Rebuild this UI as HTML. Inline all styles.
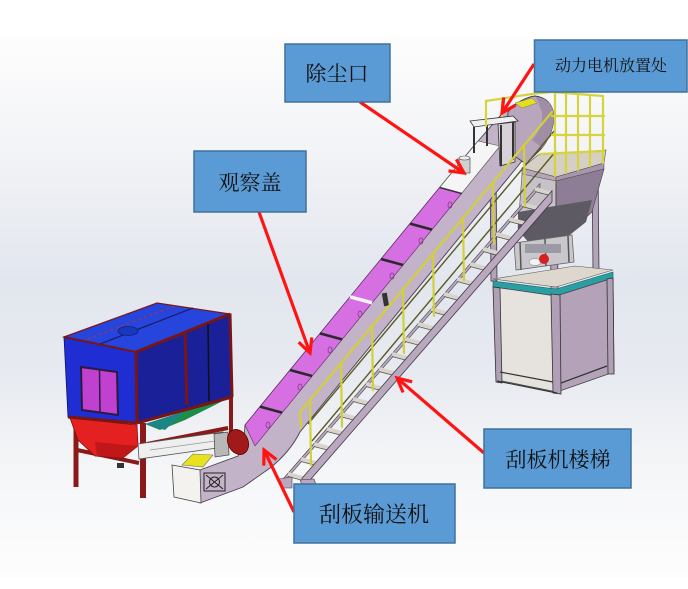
<!DOCTYPE html>
<html><head><meta charset="utf-8"><style>
html,body{margin:0;padding:0;background:#fff;}
svg{display:block;}
text{font-family:"Liberation Serif","Noto Serif CJK SC","Noto Sans CJK SC",serif;fill:#111;}
</style></head><body>
<svg width="688" height="589" viewBox="0 0 688 589" xmlns="http://www.w3.org/2000/svg">
<defs>
<linearGradient id="bg" x1="0" y1="0" x2="0" y2="1">
<stop offset="0" stop-color="#fdfdfd"/>
<stop offset="0.2" stop-color="#f3f4f7"/>
<stop offset="0.45" stop-color="#e2e6ee"/>
<stop offset="0.62" stop-color="#e7eaf0"/>
<stop offset="0.8" stop-color="#f5f6f8"/>
<stop offset="1" stop-color="#fdfdfd"/>
</linearGradient>
<marker id="ah" markerUnits="userSpaceOnUse" markerWidth="20" markerHeight="20" viewBox="0 0 20 20" refX="17" refY="10" orient="auto">
<path d="M3,3 L17,10 L3,17" fill="none" stroke="#ff1414" stroke-width="3.2"/>
</marker>
</defs>
<rect x="0" y="0" width="688" height="589" fill="#fff"/>
<rect x="0" y="37" width="688" height="541" fill="url(#bg)"/>

<!-- packaging station: upper posts -->
<g fill="#b4a4b9" stroke="#3e3844" stroke-width="0.8">
<polygon points="490,168 496,168 497,281 491,281"/>
<polygon points="550,176 557,176 558,291 551,291"/>
<polygon points="592,165 598,165 599,273 593,273"/>
</g>
<!-- platform floor -->
<polygon points="522,168 538,155 606,150 604,163 556,177" fill="#d5cfc6" stroke="#555" stroke-width="0.6"/>
<polygon points="522,168 556,177 556,183 522,174" fill="#b6a5bb" stroke="#444" stroke-width="0.5"/>
<polygon points="556,177 604,163 604,169 556,183" fill="#a896ad" stroke="#444" stroke-width="0.5"/>
<!-- hopper -->
<polygon points="522,174 556,181 556,238 530,243 518,228" fill="#c6c2c8" stroke="#555" stroke-width="0.6"/>
<polygon points="556,181 604,169 592,212 566,236 556,238" fill="#8e7e95" stroke="#444" stroke-width="0.6"/>
<polygon points="518,212 592,200 586,222 566,238 530,244 518,230" fill="#5e5a63"/>
<line x1="556" y1="183" x2="556" y2="206" stroke="#444" stroke-width="0.8"/>
<!-- feeder -->
<polygon points="514,243 572,235 574,262 516,270" fill="#c9c7cc" stroke="#666" stroke-width="0.8"/>
<g stroke="#555" stroke-width="1.5"><line x1="520" y1="242" x2="521" y2="270"/><line x1="545" y1="239" x2="546" y2="266"/><line x1="568" y1="236" x2="569" y2="262"/></g>
<rect x="525" y="244" width="36" height="9" fill="#9c9aa4"/>
<ellipse cx="535" cy="262" rx="6" ry="3.5" fill="#f2f2f2" stroke="#777" stroke-width="0.5"/>
<ellipse cx="544" cy="259" rx="5" ry="5" fill="#d42020"/>
<!-- base -->
<polygon points="493,279 575,266 613,270 556,287" fill="#ddd7cd" stroke="#555" stroke-width="0.6"/>
<polygon points="493,281 556,289 613,272 613,278 556,296 493,287" fill="#2a9fa3" stroke="#1b5d60" stroke-width="0.6"/>
<polygon points="494,287 556,296 557,392 497,380" fill="#e6e3de" stroke="#444" stroke-width="0.8"/>
<polygon points="556,296 613,278 614,372 557,392" fill="#b3a2b8" stroke="#444" stroke-width="0.8"/>
<g fill="#b0a0b5" stroke="#333" stroke-width="0.8">
<polygon points="493,287 500,288 502,383 496,382"/>
<polygon points="551,294 560,295 561,394 553,393"/>
<polygon points="607,279 613,278 614,374 608,374"/>
</g>
<g stroke="#333" stroke-width="1.2" fill="none">
<line x1="500" y1="372" x2="553" y2="382"/>
<line x1="561" y1="383" x2="607" y2="366"/>
<line x1="497" y1="381" x2="557" y2="393"/>
</g>

<!-- stair -->
<polygon points="283,479 540,183.45 540,187.45 283,483" fill="#b9a8be" stroke="#444" stroke-width="0.6"/>
<g stroke="#d9d4cb" stroke-width="4" fill="none">
<path d="M288,474 l15,4"/><path d="M301,459 l15,4"/><path d="M314,444 l15,4"/><path d="M327,429 l15,4"/><path d="M340,414 l15,4"/><path d="M353,399 l15,4"/><path d="M366,384 l15,4"/><path d="M379,369 l15,4"/><path d="M392,354 l15,4"/><path d="M405,339 l15,4"/><path d="M418,324 l15,4"/><path d="M431,309 l15,4"/><path d="M444,294 l15,4"/><path d="M457,279 l15,4"/><path d="M470,264 l15,4"/><path d="M483,249 l15,4"/><path d="M496,234 l15,4"/><path d="M509,219 l15,4"/><path d="M522,204 l15,4"/><path d="M535,189 l15,4"/>
</g>
<g stroke="#555" stroke-width="0.9" fill="none" transform="translate(0,2.5)">
<path d="M288,474 l15,4"/><path d="M301,459 l15,4"/><path d="M314,444 l15,4"/><path d="M327,429 l15,4"/><path d="M340,414 l15,4"/><path d="M353,399 l15,4"/><path d="M366,384 l15,4"/><path d="M379,369 l15,4"/><path d="M392,354 l15,4"/><path d="M405,339 l15,4"/><path d="M418,324 l15,4"/><path d="M431,309 l15,4"/><path d="M444,294 l15,4"/><path d="M457,279 l15,4"/><path d="M470,264 l15,4"/><path d="M483,249 l15,4"/><path d="M496,234 l15,4"/><path d="M509,219 l15,4"/><path d="M522,204 l15,4"/><path d="M535,189 l15,4"/>
</g>
<polygon points="302,478.3 552,190.8 552,201.8 302,489.3" fill="#b9a8be" stroke="#3e3844" stroke-width="0.8"/>
<polygon points="279,479 292,477 292,488 281,488" fill="#b9a8be" stroke="#444" stroke-width="0.6"/>
<polygon points="300,480 314,479 318,490 304,490" fill="#b9a8be" stroke="#444" stroke-width="0.6"/>

<!-- conveyor casing -->
<path d="M200,470 L238,456 L244,440 L245,425 L472,148 L500,116 L512,106 L530,97 L545,101 L553,114 L551,132 L540,150 L522,161 L300,432 Q290,452 270,468 L243,487 L200,503 Z" fill="#c3b3c8" stroke="#4a3f50" stroke-width="0.9"/>
<!-- magenta covers -->
<polygon points="245,425 440,187 462,193 255,446" fill="#d66fe2" stroke="#5a2a60" stroke-width="0.6"/>
<g stroke="#2a2a2a" stroke-width="2.6">
<line x1="260" y1="406.6" x2="282" y2="412.6"/>
<line x1="290" y1="370" x2="312" y2="376"/>
<line x1="320" y1="333.4" x2="342" y2="339.4"/>
<line x1="381" y1="259" x2="403" y2="265"/>
<line x1="410" y1="223.6" x2="432" y2="229.6"/>
<line x1="440" y1="187" x2="462" y2="193"/>
</g>
<line x1="350" y1="296.8" x2="372" y2="302.8" stroke="#f4f4f4" stroke-width="3.5"/>
<g fill="none" stroke="#7a3a80" stroke-width="0.7">
<ellipse cx="268" cy="425" rx="2" ry="3"/><ellipse cx="300" cy="387" rx="2" ry="3"/><ellipse cx="330" cy="350" rx="2" ry="3"/><ellipse cx="360" cy="314" rx="2" ry="3"/><ellipse cx="392" cy="276" rx="2" ry="3"/><ellipse cx="421" cy="241" rx="2" ry="3"/><ellipse cx="450" cy="205" rx="2" ry="3"/>
</g>
<rect x="383" y="293" width="5" height="13" fill="#333" transform="rotate(-10 385 300)"/>
<!-- white covers near top -->
<polygon points="440,187 478,141 500,146 462,193" fill="#f5f5f5" stroke="#555" stroke-width="0.6"/>
<!-- head -->
<path d="M506,150 L508,112 Q520,98 535,96 Q552,98 554,116 Q554,132 542,148 L526,164 Z" fill="#b8a6bc" stroke="#4a3f50" stroke-width="0.9"/>
<path d="M536,97 Q552,98 554,116 Q554,132 542,148 L532,140 Q544,126 542,112 Z" fill="#a08ea6"/>
<polygon points="515,103 532,98 537,103 522,108" fill="#e5df1a" stroke="#776" stroke-width="0.5"/>
<!-- motor table -->
<polygon points="498,124 515,122 515,162 500,166" fill="#d6d2d8" stroke="#333" stroke-width="0.8"/>
<polygon points="470,121 513,116 518,121 474,127" fill="#f0f0f0" stroke="#333" stroke-width="0.8"/>
<g stroke="#333" stroke-width="2"><line x1="474" y1="127" x2="474" y2="153"/><line x1="487" y1="125" x2="487" y2="146"/><line x1="501" y1="125" x2="501" y2="166"/><line x1="513" y1="122" x2="513" y2="160"/></g>
<!-- dust outlet -->
<rect x="459" y="158" width="11" height="15" fill="#d0d0d0" stroke="#555" stroke-width="0.7"/>
<ellipse cx="464.5" cy="158" rx="5.5" ry="2" fill="#eee" stroke="#555" stroke-width="0.6"/>

<!-- handrail -->
<g stroke="#5a5a22" stroke-width="1.4">
<line x1="308" y1="424" x2="555" y2="130"/>
<line x1="312" y1="441" x2="556" y2="151"/>
</g>
<g stroke="#d2d03a" stroke-width="2.2" stroke-linecap="round" fill="none">
<line x1="300" y1="412" x2="552" y2="112"/>
<line x1="300" y1="412" x2="301" y2="428"/>
<line x1="310" y1="400" x2="311" y2="465"/>
<line x1="341" y1="363" x2="342" y2="427"/>
<line x1="372" y1="326" x2="373" y2="390"/>
<line x1="403" y1="289" x2="404" y2="353"/>
<line x1="433" y1="254" x2="434" y2="316"/>
<line x1="463" y1="218" x2="464" y2="280"/>
<line x1="493" y1="182" x2="494" y2="244"/>
<line x1="524" y1="145" x2="525" y2="206"/>
</g>
<!-- platform railing -->
<g stroke="#d6d43c" stroke-width="2.2" stroke-linecap="round" fill="none">
<line x1="486" y1="101" x2="532" y2="94"/>
<line x1="552" y1="92" x2="603" y2="96"/>
<line x1="532" y1="94" x2="552" y2="92"/>
<line x1="486" y1="101" x2="486" y2="126"/>
<line x1="502" y1="99" x2="502" y2="116"/>
<line x1="555" y1="92" x2="555" y2="176"/>
<line x1="578" y1="94" x2="578" y2="170"/>
<line x1="603" y1="96" x2="603" y2="163"/>
<line x1="566" y1="93" x2="566" y2="173"/>
<line x1="590" y1="95" x2="590" y2="166"/>
<line x1="552" y1="116" x2="604" y2="116"/>
<line x1="552" y1="135" x2="604" y2="135"/>
<line x1="540" y1="154" x2="604" y2="151"/>
</g>

<!-- dust collector legs & frame -->
<g stroke="#8a1a1a" fill="none">
<line x1="76" y1="418" x2="76" y2="487" stroke-width="5"/>
<line x1="143" y1="423" x2="143" y2="498" stroke-width="6"/>
<line x1="231" y1="397" x2="231" y2="447" stroke-width="4"/>
<line x1="77" y1="450" x2="139" y2="463" stroke-width="4"/>
<line x1="147" y1="444" x2="228" y2="428" stroke-width="4"/>
</g>
<rect x="117" y="463" width="7" height="5" fill="#333"/>
<!-- hoppers -->
<polygon points="70,418 137,425 138,446 123,458 95,456 78,440" fill="#e42020" stroke="#7a1010" stroke-width="0.8"/>
<polygon points="95,442 138,446 123,458 97,456" fill="#c01818"/>
<polygon points="145,424 230,397 215,405 185,420 160,430" fill="#1e8c4a"/>
<polygon points="145,424 185,411 165,430" fill="#1c8585"/>
<!-- box -->
<polygon points="64,337 157,303 230,314 136,352" fill="#2645dc" stroke="#7a1818" stroke-width="1.2"/>
<line x1="82" y1="341" x2="175" y2="306" stroke="#c03030" stroke-width="1" stroke-dasharray="3,3"/>
<line x1="100" y1="344" x2="193" y2="308" stroke="#1a1a60" stroke-width="1.2"/>
<ellipse cx="128" cy="331" rx="10" ry="4.5" fill="#1838c0" stroke="#102070" stroke-width="0.8"/>
<polygon points="64,337 136,352 137,423 68,417" fill="#1f2ed3" stroke="#101060" stroke-width="0.8"/>
<polygon points="136,352 230,314 232,397 137,423" fill="#1a2198"/>
<g stroke="#7a1515" fill="none">
<line x1="136" y1="352" x2="230" y2="314" stroke-width="3"/>
<line x1="136" y1="352" x2="137" y2="423" stroke-width="3"/>
<line x1="230" y1="314" x2="232" y2="397" stroke-width="3"/>
<line x1="137" y1="423" x2="232" y2="397" stroke-width="3"/>
<line x1="64" y1="337" x2="136" y2="352" stroke-width="2"/>
<line x1="68" y1="417" x2="137" y2="423" stroke-width="3"/>
<line x1="185" y1="333" x2="187" y2="405" stroke-width="3"/>
</g>
<line x1="208" y1="324" x2="209" y2="401" stroke="#111" stroke-width="1.5"/>
<polygon points="81,367 117,372 118,415 82,410" fill="#c040d0" stroke="#2a1a40" stroke-width="2"/>
<line x1="99.5" y1="369.5" x2="100" y2="412.5" stroke="#2a1a40" stroke-width="1.5"/>

<!-- screw conveyor -->
<polygon points="138,444 223,432 224,447 139,459" fill="#efefef" stroke="#555" stroke-width="0.8"/>
<line x1="150" y1="450" x2="215" y2="441" stroke="#999" stroke-width="0.8"/>
<polygon points="214,434 228,432 229,455 215,457" fill="#b8b8b8" stroke="#444" stroke-width="0.7"/>
<ellipse cx="238" cy="442" rx="10" ry="13" transform="rotate(-25 238 442)" fill="#a01a1a" stroke="#500" stroke-width="0.8"/>

<!-- boot -->
<polygon points="172,465 200,470 201,503 174,497" fill="#f4f2ee" stroke="#444" stroke-width="0.8"/>
<polygon points="182,465 193,454 213,455 203,467" fill="#e8e21e" stroke="#776" stroke-width="0.6"/>
<g stroke="#222" stroke-width="1" fill="none">
<rect x="204" y="473" width="21" height="18"/>
<circle cx="214.5" cy="482" r="5"/>
<line x1="206" y1="475" x2="223" y2="489"/>
<line x1="223" y1="475" x2="206" y2="489"/>
</g>

<!-- arrows -->
<g stroke="#ff1414" stroke-width="3.2" fill="none" marker-end="url(#ah)">
<line x1="360" y1="102" x2="464" y2="173"/>
<line x1="534" y1="64" x2="502" y2="113"/>
<line x1="259" y1="212" x2="310" y2="353"/>
<line x1="294" y1="512" x2="264" y2="450"/>
<line x1="484" y1="453" x2="397" y2="378"/>
</g>

<!-- labels -->
<g fill="#5b9bd5" stroke="#41719c" stroke-width="1.5">
<rect x="285" y="44" width="105" height="58"/>
<rect x="534.5" y="40" width="152.5" height="52"/>
<rect x="194" y="151" width="112" height="61"/>
<rect x="484" y="429" width="147" height="59"/>
<rect x="294" y="484" width="161" height="59"/>
</g>
<text x="337" y="81" font-size="21" text-anchor="middle">除尘口</text>
<text x="611" y="71" font-size="16" text-anchor="middle">动力电机放置处</text>
<text x="250" y="190" font-size="21" text-anchor="middle">观察盖</text>
<text x="558" y="467" font-size="21" text-anchor="middle">刮板机楼梯</text>
<text x="374" y="522" font-size="22" text-anchor="middle">刮板输送机</text>
</svg>
</body></html>
